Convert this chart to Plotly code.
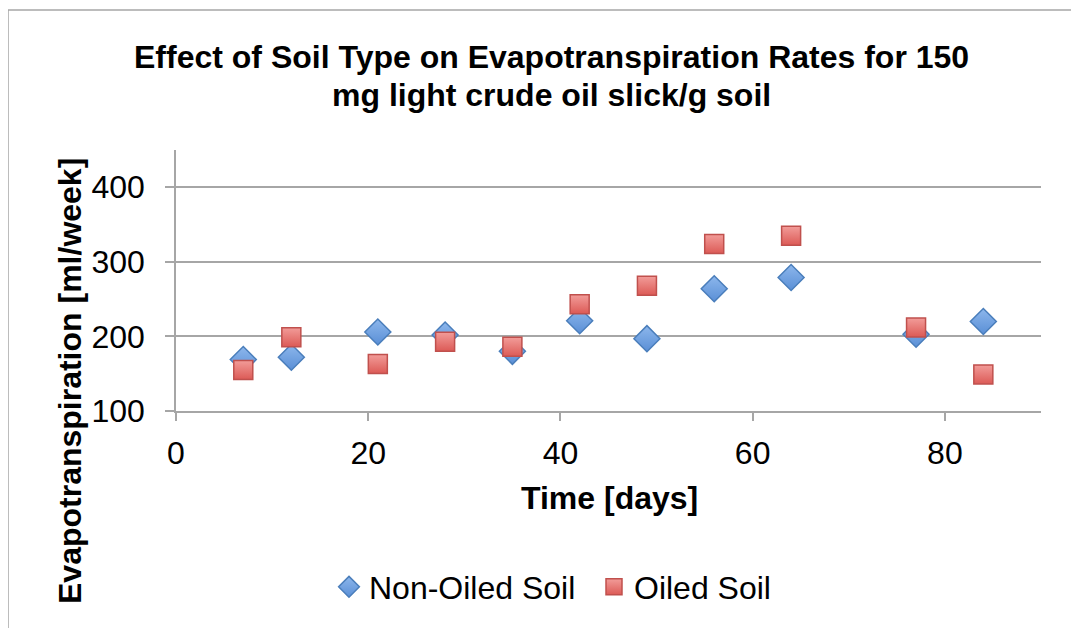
import plotly.graph_objects as go

days = [7, 12, 21, 28, 35, 42, 49, 56, 64, 77, 84]
non_oiled = [169, 172, 206, 202, 180, 221, 197, 264, 279, 203, 220]
oiled = [155, 199, 163, 193, 186, 243, 268, 324, 335, 212, 149]

title_lines = ["Effect of Soil Type on Evapotranspiration Rates for 150",
               "mg light crude oil slick/g soil"]
x_title = "Time [days]"
y_title = "Evapotranspiration [ml/week]"
x_ticks = [0, 20, 40, 60, 80]
y_ticks = [100, 200, 300, 400]

# page body has an 8px margin; positions below are reference pixels minus 8
OFF = 8
W, H = 1079 - OFF, 628 - OFF
L = 176 - OFF
T = 150 - OFF
R = W - (1041 - OFF)
B = H - (411 - OFF)
PW, PH = W - L - R, H - T - B
FONT = "Liberation Sans, Arial, sans-serif"


def px_x(x):
    return (x - OFF - L) / PW


def px_y(y):
    return (H - B - (y - OFF)) / PH


fig = go.Figure()
fig.add_trace(go.Scatter(
    x=days, y=non_oiled, mode="markers", name="Non-Oiled Soil",
    marker=dict(symbol="diamond", size=20, color="#8db7ec",
                gradient=dict(type="vertical", color="#5a8fd6"),
                line=dict(color="#4a7ebb", width=1.5)),
))
fig.add_trace(go.Scatter(
    x=days, y=oiled, mode="markers", name="Oiled Soil",
    marker=dict(symbol="square", size=19, color="#f29c99",
                gradient=dict(type="vertical", color="#dc5a56"),
                line=dict(color="#c0504d", width=1.5)),
))

fig.update_layout(
    width=W, height=H,
    margin=dict(l=L, r=R, t=T, b=B, pad=0),
    paper_bgcolor="white", plot_bgcolor="white",
    font=dict(family=FONT, size=32, color="black"),
    showlegend=True,
    legend=dict(orientation="h", xref="container", yref="container",
                x=(329 - OFF) / W, xanchor="left",
                y=1 - (587 - OFF) / H, yanchor="middle",
                font=dict(size=32), itemsizing="trace", traceorder="normal",
                entrywidth=220, bgcolor="rgba(0,0,0,0)"),
)

fig.update_xaxes(range=[0, 90], tickvals=x_ticks, ticks="outside", ticklen=8,
                 tickcolor="#a6a6a6", tickwidth=1.5, showline=True,
                 linecolor="#a6a6a6", linewidth=1.5, showgrid=False, zeroline=False,
                 tickfont=dict(size=32), ticklabelstandoff=5)
fig.update_yaxes(range=[100, 450], tickvals=y_ticks, ticks="outside", ticklen=9,
                 tickcolor="#a6a6a6", tickwidth=1.5, showline=True,
                 linecolor="#a6a6a6", linewidth=1.5, showgrid=True,
                 gridcolor="#a6a6a6", gridwidth=1.5, zeroline=False,
                 tickfont=dict(size=32), ticklabelstandoff=14)

# Title (two lines placed separately to match line spacing)
for line, ypx in zip(title_lines, [57, 95]):
    fig.add_annotation(text="<b>" + line + "</b>",
                       xref="paper", yref="paper", x=px_x(551), y=px_y(ypx),
                       showarrow=False, font=dict(size=32), align="center",
                       xanchor="center", yanchor="middle")
# Axis titles
fig.add_annotation(text="<b>" + x_title + "</b>", xref="paper", yref="paper",
                   x=px_x(609), y=px_y(498),
                   showarrow=False, font=dict(size=32), xanchor="center", yanchor="middle")
fig.add_annotation(text="<b>" + y_title + "</b>", xref="paper", yref="paper",
                   x=px_x(70), y=px_y(381), textangle=-90, showarrow=False,
                   font=dict(size=32), xanchor="center", yanchor="middle")

# Outer frame (left and top edges visible)
fx, fy = px_x(8), px_y(10)
fig.add_shape(type="line", xref="paper", yref="paper",
              x0=fx, x1=fx, y0=px_y(640), y1=fy,
              line=dict(color="#a6a6a6", width=1.5))
fig.add_shape(type="line", xref="paper", yref="paper",
              x0=fx, x1=px_x(1090), y0=fy, y1=fy,
              line=dict(color="#a6a6a6", width=1.5))

fig.write_html("out.html")
